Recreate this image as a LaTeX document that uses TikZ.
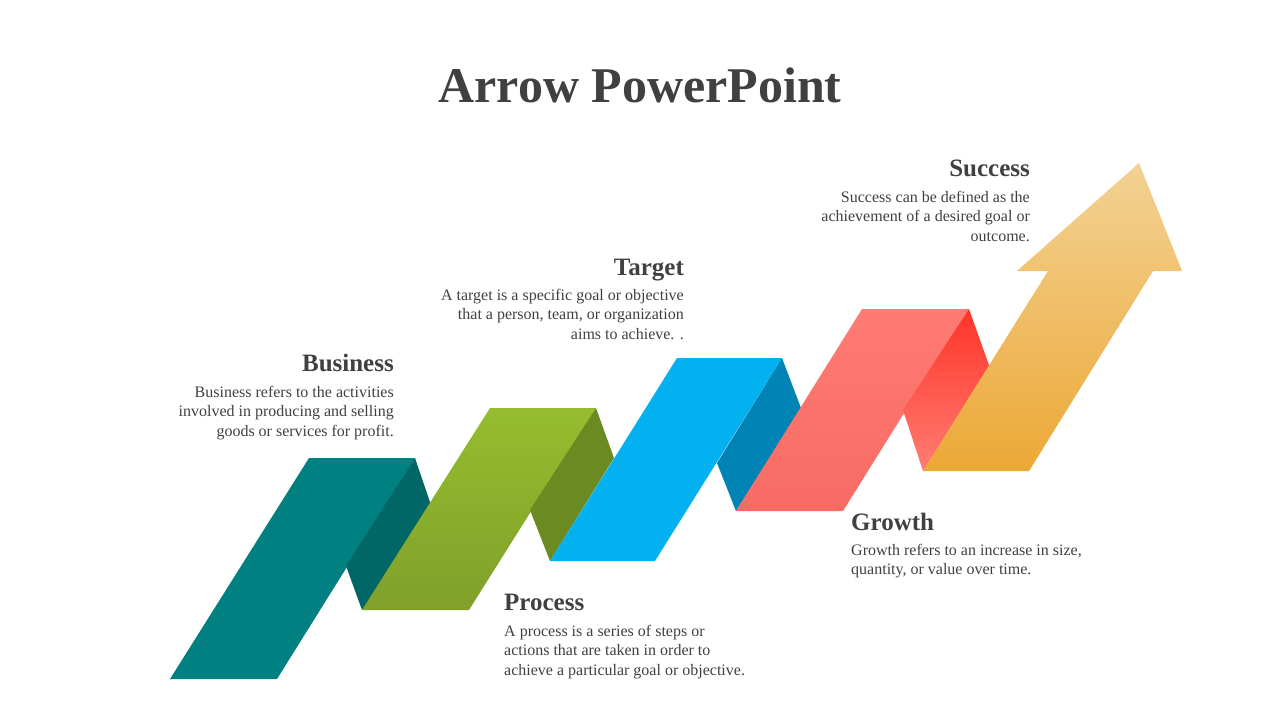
\documentclass[tikz,border=0pt]{standalone}
\usepackage{fontspec}
\setmainfont{Liberation Serif}
\definecolor{txt}{HTML}{404040}
\begin{document}
\begin{tikzpicture}[x=1pt,y=-1pt,
  head/.style={font=\fontsize{25}{28}\selectfont\bfseries,text=txt,inner sep=0pt},
  body/.style={font=\fontsize{16}{19.5}\selectfont,text=txt,inner sep=0pt}]
\useasboundingbox (0,0) rectangle (1280,720);
\node[font=\fontsize{50}{56}\selectfont\bfseries,text=txt] (title) at (640,85) {Arrow PowerPoint};
% teal
\shade[top color=teal!100!white,bottom color={rgb,255:red,0;green,128;blue,128}] (170,679)--(277,679)--(415,458)--(309,458)--cycle;
\fill[fill={rgb,255:red,0;green,102;blue,102}] (415,458)--(432,508)--(362,610)--(346,566)--cycle;
% green
\shade[top color={rgb,255:red,149;green,189;blue,47},bottom color={rgb,255:red,128;green,160;blue,42}] (362,610)--(469,610)--(596,408)--(490,408)--cycle;
\fill[fill={rgb,255:red,106;green,138;blue,34}] (596,408)--(614,458)--(550,561)--(530,510)--cycle;
% blue
\fill[fill={rgb,255:red,3;green,176;blue,240}] (550,561)--(655,561)--(782,358)--(677,358)--cycle;
\fill[fill={rgb,255:red,0;green,131;blue,181}] (782,358)--(801,408)--(736,511)--(717,463)--cycle;
% red
\shade[top color={rgb,255:red,255;green,123;blue,115},bottom color={rgb,255:red,247;green,107;blue,100}] (736,511)--(843,511)--(969,309)--(862,309)--cycle;
\shade[top color={rgb,255:red,255;green,52;blue,40},bottom color={rgb,255:red,255;green,125;blue,115}] (969,309)--(990,368)--(923,471)--(903,410)--cycle;
% arrow
\shade[top color={rgb,255:red,243;green,210;blue,148},bottom color={rgb,255:red,236;green,168;blue,54}] (923,471)--(1029,471)--(1153,271)--(1182,271)--(1139,163)--(1017,271)--(1048,271)--cycle;
% texts
\node[head,anchor=base east] (h1) at (394,371) {Business};
\node[body,anchor=north east,align=right] (b1) at (394,386) {Business refers to the activities\\involved in producing and selling\\goods or services for profit.};
\node[head,anchor=base east] (h2) at (684,275) {Target};
\node[body,anchor=north east,align=right] (b2) at (684,289) {A target is a specific goal or objective\\that a person, team, or organization\\aims to achieve. .};
\node[head,anchor=base east] (h3) at (1030,176) {Success};
\node[body,anchor=north east,align=right] (b3) at (1030,191) {Success can be defined as the\\achievement of a desired goal or\\outcome.};
\node[head,anchor=base west] (h4) at (504,610) {Process};
\node[body,anchor=north west,align=left] (b4) at (504,625) {A process is a series of steps or\\actions that are taken in order to\\achieve a particular goal or objective.};
\node[head,anchor=base west] (h5) at (851,530) {Growth};
\node[body,anchor=north west,align=left] (b5) at (851,544) {Growth refers to an increase in size,\\quantity, or value over time.};
\end{tikzpicture}
\end{document}
